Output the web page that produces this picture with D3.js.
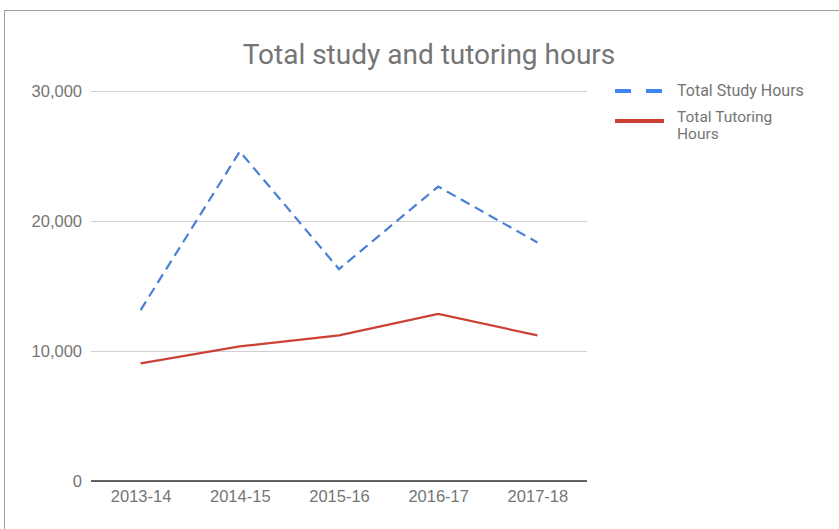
<!DOCTYPE html>
<html lang="en">
<head>
    <meta charset="UTF-8">
    <title>Total study and tutoring hours</title>
    <script src="https://cdnjs.cloudflare.com/ajax/libs/d3/7.8.2/d3.min.js"></script>
    <style>
        body { margin: 0; background: #fff; }
        svg { display: block; font-family: Roboto, "Noto Sans", sans-serif; }
        .frame { position: absolute; left: 4px; top: 10px; width: 900px; height: 600px; border: 1px solid #9e9e9e; }
    </style>
</head>
<body>
    <div class="frame"></div>
    <svg id="chart"></svg>
    <script>
        // data
        let seasons = ['2013-14', '2014-15', '2015-16', '2016-17', '2017-18'];
        let studyHours = [13150, 25350, 16300, 22650, 18350];
        let tutoringHours = [9050, 10350, 11200, 12850, 11200];
        let yTicks = [0, 10000, 20000, 30000];
        let seriesNames = ['Total Study Hours', 'Total Tutoring Hours'];

        let width = 839;
        let height = 529;
        let plotLeft = 91, plotRight = 587, plotTop = 91, plotBottom = 481;

        const svg = d3.select('#chart')
            .attr('width', width)
            .attr('height', height)
            .style('position', 'absolute')
            .style('left', 0)
            .style('top', 0);

        const xScale = d3.scalePoint()
            .domain(seasons)
            .range([plotLeft, plotRight])
            .padding(0.5);

        const yScale = d3.scaleLinear()
            .domain([0, 30000])
            .range([plotBottom, plotTop]);

        // title
        svg.append('text')
            .text('Total study and tutoring hours')
            .attr('x', 429)
            .attr('y', 64)
            .attr('text-anchor', 'middle')
            .style('font-size', '28px')
            .style('fill', '#757575');

        // gridlines + y labels
        const yAxis = d3.axisLeft(yScale)
            .tickValues(yTicks)
            .tickSize(-(plotRight - plotLeft))
            .tickPadding(9)
            .tickFormat(d3.format(','));

        const gy = svg.append('g')
            .attr('transform', `translate(${plotLeft},0)`)
            .call(yAxis);
        gy.select('.domain').remove();
        gy.selectAll('line').attr('stroke', '#d0d0d0');
        gy.selectAll('text').style('font-size', '16.5px').style('fill', '#757575');

        // baseline + x labels
        const xAxis = d3.axisBottom(xScale).tickSize(0).tickPadding(9);
        const gx = svg.append('g')
            .attr('transform', `translate(0,${plotBottom})`)
            .call(xAxis);
        gx.select('.domain')
            .attr('d', `M${plotLeft},0H${plotRight}`)
            .attr('stroke', '#333')
            .attr('stroke-width', 1.5);
        gx.selectAll('text').style('font-size', '16.5px').style('fill', '#757575');

        const line = d3.line()
            .x((d, i) => xScale(seasons[i]))
            .y(d => yScale(d));

        svg.append('path')
            .datum(tutoringHours)
            .attr('d', line)
            .attr('fill', 'none')
            .attr('stroke', '#cc4135')
            .attr('stroke-width', 2.2);

        svg.append('path')
            .datum(studyHours)
            .attr('d', line)
            .attr('fill', 'none')
            .attr('stroke', '#4a80d4')
            .attr('stroke-width', 2.2)
            .attr('stroke-dasharray', '10,6');

        // legend
        const legend = svg.append('g').attr('class', 'legend');

        legend.append('line')
            .attr('x1', 615).attr('x2', 664)
            .attr('y1', 91).attr('y2', 91)
            .attr('stroke', '#4285f4')
            .attr('stroke-width', 4)
            .attr('stroke-dasharray', '16,15');

        legend.append('text')
            .text(seriesNames[0])
            .attr('x', 677).attr('y', 96)
            .style('font-size', '16px')
            .style('fill', '#757575');

        legend.append('line')
            .attr('x1', 615).attr('x2', 664)
            .attr('y1', 121).attr('y2', 121)
            .attr('stroke', '#cc4135')
            .attr('stroke-width', 4);

        const t2 = legend.append('text')
            .attr('x', 677).attr('y', 122)
            .style('font-size', '15.5px')
            .style('fill', '#757575');
        t2.append('tspan').attr('x', 677).attr('dy', 0).text('Total Tutoring');
        t2.append('tspan').attr('x', 677).attr('dy', 17).text('Hours');
    </script>
</body>
</html>
